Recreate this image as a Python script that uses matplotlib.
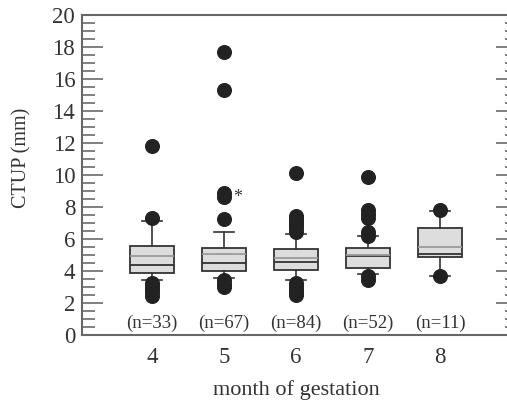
import matplotlib
matplotlib.use("Agg")
import matplotlib.pyplot as plt

plt.rcParams['font.family'] = ['Liberation Serif', 'DejaVu Serif']

months = [4, 5, 6, 7, 8]
counts = [33, 67, 84, 52, 11]
q1 = [3.86, 3.98, 4.06, 4.17, 4.85]
q3 = [5.56, 5.46, 5.38, 5.46, 6.67]
medians = [4.37, 4.48, 4.58, 4.94, 5.06]
means = [4.90, 5.08, 4.79, 5.00, 5.52]
whisk_lo = [3.44, 3.54, 3.44, 3.79, 3.71]
whisk_hi = [7.10, 6.46, 6.30, 6.15, 7.75]
outliers = [
    [7.3, 11.8, 3.25, 3.05, 2.85, 2.65, 2.45],
    [7.25, 8.65, 8.85, 15.3, 17.7, 3.4, 3.2, 3.0],
    [6.45, 6.65, 6.85, 7.05, 7.25, 7.45, 10.1, 3.25, 3.05, 2.85, 2.65, 2.5],
    [6.2, 6.4, 7.3, 7.55, 7.8, 9.9, 3.7, 3.45],
    [7.8, 3.7],
]

stats = []
for i in range(len(months)):
    stats.append(dict(med=medians[i], q1=q1[i], q3=q3[i], mean=means[i],
                      whislo=whisk_lo[i], whishi=whisk_hi[i],
                      fliers=outliers[i]))

fig = plt.figure(figsize=(5.07, 4.03), dpi=100)
# right edge of the axes sits just past the picture, as in the reference
ax = fig.add_axes([0.162, 0.169, 0.858, 0.794])

edge = '#333333'
ax.bxp(stats, positions=months, widths=0.6, patch_artist=True,
       showmeans=True, meanline=True,
       boxprops=dict(facecolor='#dddddd', edgecolor=edge, linewidth=1.3),
       medianprops=dict(color=edge, linewidth=1.3),
       meanprops=dict(color='#9a9a9a', linestyle='-', linewidth=1.3),
       whiskerprops=dict(color=edge, linewidth=1.2),
       capprops=dict(color=edge, linewidth=1.2),
       capwidths=0.27,
       flierprops=dict(marker='o', markersize=9.8, markerfacecolor='#222222',
                       markeredgecolor='#222222'))

ax.text(5.19, 8.6, '*', fontsize=13, ha='center', va='center', color='#333333')

for m, n in zip(months, counts):
    ax.text(m, 0.7, f'(n={n})', ha='center', va='center', fontsize=13.5, color='#333333')

ax.set_xlim(3.03, 9.07)
ax.set_ylim(0, 20)
ax.set_yticks(range(0, 21, 2))
ax.set_yticks([v * 0.5 for v in range(41)], minor=True)
ax.set_xticks(months)
ax.set_xticklabels([str(m) for m in months])

ax.tick_params(axis='y', which='both', direction='in', right=True, colors='#777777',
               labelcolor='#333333', labelsize=16.5, pad=5)
ax.tick_params(axis='y', which='major', length=15, width=1.3)
ax.tick_params(axis='y', which='minor', length=9, width=1.3)
ax.tick_params(axis='x', length=0, pad=9, labelsize=16.5, labelcolor='#333333')

for s in ax.spines.values():
    s.set_color('#666666')
    s.set_linewidth(1.5)

fig.text(296 / 507, 0.032, 'month of gestation', fontsize=16, color='#333333',
         ha='center', va='center')
fig.text(22 / 507, 0.608, 'CTUP (mm)', fontsize=14.5, color='#333333',
         rotation=90, ha='center', va='center')

fig.savefig('out.png', dpi=100)
